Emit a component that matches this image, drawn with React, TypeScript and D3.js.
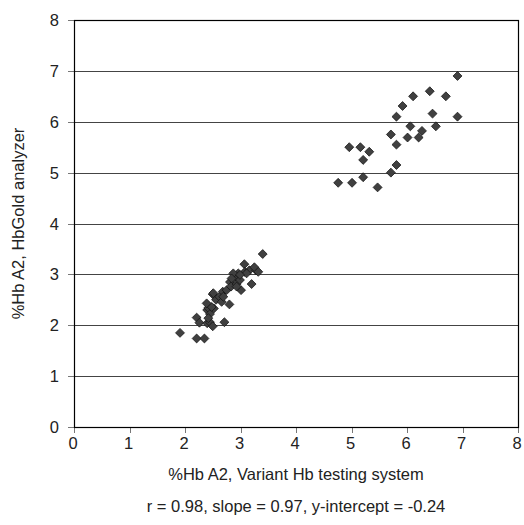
import React from "react";
import * as d3 from "d3";

// %Hb A2 measured by Variant Hb testing system (x) vs HbGold analyzer (y)
const normalX = [
  1.91, 2.21, 2.26, 2.21, 2.35, 2.4, 2.45, 2.5, 2.71, 2.4, 2.42, 2.45, 2.52, 2.48, 2.42,
  2.5, 2.56, 2.62, 2.66, 2.68, 2.75, 2.8, 2.39, 2.51, 2.81, 2.83, 2.91, 2.93, 3.01, 2.99,
  3.07, 3.08, 3.2, 3.16, 3.28, 3.4, 3.25, 3.32, 3.11, 2.96, 2.87, 2.99, 2.69, 2.93, 2.84,
];
const normalY = [
  1.85, 2.15, 2.05, 1.74, 1.74, 2.04, 2.06, 1.98, 2.06, 2.3, 2.34, 2.22, 2.33, 2.36, 2.14,
  2.61, 2.5, 2.56, 2.46, 2.66, 2.69, 2.41, 2.43, 2.63, 2.85, 2.76, 2.95, 2.81, 2.69, 2.89,
  3.2, 3.05, 2.81, 3.08, 3.08, 3.4, 3.14, 3.05, 3.02, 3.02, 3.02, 2.99, 2.56, 2.76, 2.92,
];
const elevatedX = [
  6.91, 6.41, 6.11, 6.7, 5.92, 5.81, 6.46, 6.91, 6.06, 6.27, 6.52, 5.71, 6.01,
  6.21, 5.81, 4.96, 5.16, 5.32, 5.21, 5.81, 5.71, 4.76, 5.01, 5.21, 5.47,
];
const elevatedY = [
  6.9, 6.6, 6.5, 6.5, 6.31, 6.1, 6.16, 6.1, 5.91, 5.82, 5.91, 5.75, 5.69,
  5.69, 5.55, 5.5, 5.5, 5.41, 5.25, 5.15, 5.0, 4.8, 4.8, 4.91, 4.71,
];

const xTicks = [0, 1, 2, 3, 4, 5, 6, 7, 8];
const yTicks = [0, 1, 2, 3, 4, 5, 6, 7, 8];
const xTitle = "%Hb A2, Variant Hb testing system";
const yTitle = "%Hb A2, HbGold analyzer";
const statsLine = "r = 0.98, slope = 0.97, y-intercept = -0.24";

const width = 524;
const height = 525;
const margin = { top: 20, right: 6, bottom: 98, left: 74 };
const font = "'Liberation Sans', Arial, sans-serif";
const fontSize = "16.5px";

const App = () => {
  const ref = React.useRef<SVGSVGElement>(null);

  React.useEffect(() => {
    const svg = d3.select(ref.current);
    svg.selectAll("*").remove();

    const x = d3.scaleLinear().domain([0, 8]).range([margin.left, width - margin.right]);
    const y = d3.scaleLinear().domain([0, 8]).range([height - margin.bottom, margin.top]);

    // horizontal gridlines
    svg.append("g")
      .selectAll("line")
      .data(yTicks.filter(t => t > 0 && t < 8))
      .enter()
      .append("line")
      .attr("x1", x(0))
      .attr("x2", x(8))
      .attr("y1", d => Math.round(y(d)) + 0.5)
      .attr("y2", d => Math.round(y(d)) + 0.5)
      .attr("stroke", "#444");

    // y ticks + labels
    const yAxis = svg.append("g");
    yAxis.selectAll("line")
      .data(yTicks)
      .enter()
      .append("line")
      .attr("x1", x(0) - 6)
      .attr("x2", x(0))
      .attr("y1", d => Math.round(y(d)) + 0.5)
      .attr("y2", d => Math.round(y(d)) + 0.5)
      .attr("stroke", "#777");
    yAxis.selectAll("text")
      .data(yTicks)
      .enter()
      .append("text")
      .text(d => d)
      .attr("x", x(0) - 15)
      .attr("y", d => y(d) + 6)
      .attr("text-anchor", "end")
      .style("font-family", font)
      .style("font-size", fontSize)
      .style("fill", "#222");

    // x ticks + labels
    const xAxis = svg.append("g");
    xAxis.selectAll("line")
      .data(xTicks)
      .enter()
      .append("line")
      .attr("x1", d => Math.round(x(d)) + 0.5)
      .attr("x2", d => Math.round(x(d)) + 0.5)
      .attr("y1", y(0))
      .attr("y2", y(0) + 6)
      .attr("stroke", "#777");
    xAxis.selectAll("text")
      .data(xTicks)
      .enter()
      .append("text")
      .text(d => d)
      .attr("x", d => x(d) - 1)
      .attr("y", y(0) + 22)
      .attr("text-anchor", "middle")
      .style("font-family", font)
      .style("font-size", fontSize)
      .style("fill", "#222");

    // plot frame
    svg.append("rect")
      .attr("x", Math.round(x(0)) + 0.5)
      .attr("y", Math.round(y(8)) + 0.5)
      .attr("width", Math.round(x(8)) - Math.round(x(0)))
      .attr("height", Math.round(y(0)) - Math.round(y(8)))
      .attr("fill", "none")
      .attr("stroke", "#000")
      .attr("stroke-width", 1.2);

    // points
    const points = [
      ...normalX.map((v, i) => [v, normalY[i]]),
      ...elevatedX.map((v, i) => [v, elevatedY[i]]),
    ];
    const diamond = d3.symbol().type(d3.symbolSquare).size(40);
    svg.append("g")
      .selectAll("path")
      .data(points)
      .enter()
      .append("path")
      .attr("d", diamond)
      .attr("transform", d => `translate(${x(d[0])},${y(d[1])}) rotate(45)`)
      .attr("fill", "#404040")
      .attr("stroke", "#111")
      .attr("stroke-width", 0.7);

    // titles
    const cx = (x(0) + x(8)) / 2;
    svg.append("text")
      .text(xTitle)
      .attr("x", cx)
      .attr("y", y(0) + 53)
      .attr("text-anchor", "middle")
      .style("font-family", font)
      .style("font-size", fontSize)
      .style("fill", "#222");
    svg.append("text")
      .text(statsLine)
      .attr("x", cx)
      .attr("y", y(0) + 85)
      .attr("text-anchor", "middle")
      .style("font-family", font)
      .style("font-size", fontSize)
      .style("fill", "#222");
    svg.append("text")
      .text(yTitle)
      .attr("transform", `translate(24,${(y(0) + y(8)) / 2}) rotate(-90)`)
      .attr("text-anchor", "middle")
      .style("font-family", font)
      .style("font-size", fontSize)
      .style("fill", "#222");
  }, []);

  return (
    <svg
      ref={ref}
      width={width}
      height={height}
      style={{ position: "absolute", left: 0, top: 0, background: "#fff" }}
    />
  );
};

export default App;
